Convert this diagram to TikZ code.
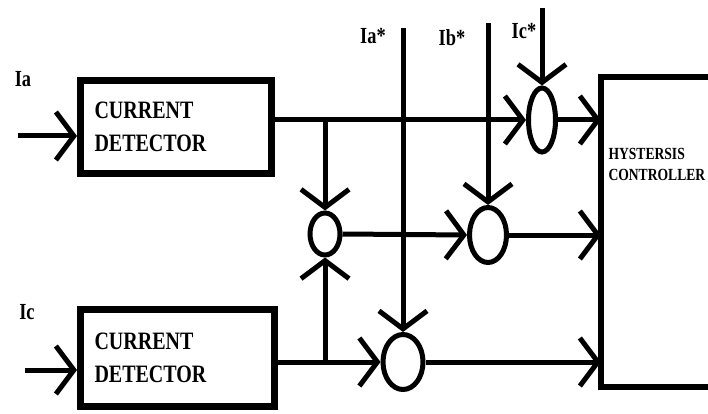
\documentclass[tikz,border=0pt]{standalone}
\usepackage{fontspec}
\setmainfont{Liberation Serif}
\newfontfamily\figfont[FakeStretch=0.8]{Liberation Serif}
\usetikzlibrary{positioning,shapes.geometric,arrows.meta}

\begin{document}
\begin{tikzpicture}[x=1pt, y=-1pt, line width=5pt,
    block/.style={draw, line width=7pt, align=left, inner xsep=14pt, text width=163pt, font=\figfont\bfseries\fontsize{25}{33}\selectfont},
    sum/.style={draw, ellipse, inner sep=0pt},
    arr/.style={-{Straight Barb[length=18pt,width=48pt]}},
    lbl/.style={inner sep=0pt, font=\figfont\bfseries\fontsize{23}{27}\selectfont}]
    \useasboundingbox (0,0) rectangle (708,414);
    \clip (0,0) rectangle (708,414);

    \node (det1) [block, minimum height=93pt] at (176,127) {CURRENT\\DETECTOR};
    \node (det2) [block, text width=166pt, minimum height=97pt] at (177.5,358) {CURRENT\\DETECTOR};
    \node (ctrl) [draw, line width=6pt, outer sep=0pt, minimum width=200pt, minimum height=310pt, anchor=north west] at (601,77) {};
    \node (ctrlname) [lbl, align=left, anchor=west, font=\figfont\bfseries\fontsize{17}{21}\selectfont] at (606,164) {HYSTERSIS\\CONTROLLER};

    \node (sumC) [sum, minimum width=27pt, minimum height=64pt] at (542,120) {};
    \node (sumA) [sum, minimum width=30pt, minimum height=42pt] at (325,234) {};
    \node (sumB) [sum, minimum width=37pt, minimum height=55pt] at (488,235) {};
    \node (sumD) [sum, minimum width=40pt, minimum height=55pt] at (403,362) {};

    \node (lblIa) [lbl] at (23,79) {Ia};
    \node (lblIc) [lbl] at (27,312) {Ic};
    \node (lblIaref) [lbl] at (373,36) {Ia*};
    \node (lblIbref) [lbl] at (452,38) {Ib*};
    \node (lblIcref) [lbl] at (524,31) {Ic*};

    \coordinate (inA) at (18,136);
    \coordinate (inC) at (25,370);
    \coordinate (refA) at (403,28);
    \coordinate (refB) at (488,23);
    \coordinate (refC) at (542,8);
    \coordinate (outA) at (det1.east |- sumC.west);
    \coordinate (tapA) at (sumA |- outA);
    \coordinate (outC) at (det2.east |- sumD.west);
    \coordinate (tapC) at (sumA |- outC);

    % inputs to the detectors
    \draw [arr] (inA) -- (inA -| det1.west);
    \draw [arr] (inC) -- (inC -| det2.west);
    % detector outputs
    \draw [arr] (outA) -- (sumC.west);
    \draw [arr] (tapA) -- (sumA.north);
    \draw [arr] (outC) -- (sumD.west);
    \draw [arr] (tapC) -- (sumA.south);
    \draw [arr] (sumA.east) -- (sumB.west);
    % references
    \draw [arr] (refA) -- (sumD.north);
    \draw [arr] (refB) -- (sumB.north);
    \draw [arr] (refC) -- (sumC.north);
    % to the controller
    \draw [arr] (sumC.east) -- (sumC.east -| ctrl.west);
    \draw [arr] (sumB.east) -- (sumB.east -| ctrl.west);
    \draw [arr] (sumD.east) -- (sumD.east -| ctrl.west);
\end{tikzpicture}
\end{document}
